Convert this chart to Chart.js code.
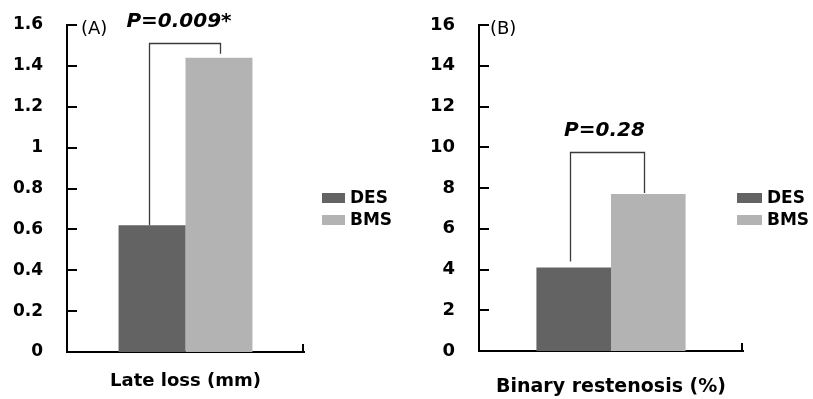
<!DOCTYPE html>
<html>
<head>
<meta charset="utf-8">
<script src="https://cdn.jsdelivr.net/npm/chart.js@4/dist/chart.umd.min.js"></script>
<style>
  html, body { margin: 0; padding: 0; background: #fff; }
  #wrap { position: relative; width: 813px; height: 399px; overflow: hidden; }
  #ca { position: absolute; left: 0; top: 0; }
  #cb { position: absolute; left: 410px; top: 0; }
</style>
</head>
<body>
<div id="wrap">
  <canvas id="ca" width="410" height="399"></canvas>
  <canvas id="cb" width="403" height="399"></canvas>
</div>
<script>
// ---- data ----
const seriesNames = ['DES', 'BMS'];
const seriesColors = ['#636363', '#b3b3b3'];
const categoriesA = ['Late loss (mm)'];
const categoriesB = ['Binary restenosis (%)'];
const lateLoss = [0.62, 1.44];          // DES, BMS
const binaryRestenosis = [4.1, 7.7];    // DES, BMS
const yTicksA = ['0', '0.2', '0.4', '0.6', '0.8', '1', '1.2', '1.4', '1.6'];
const yTicksB = ['0', '2', '4', '6', '8', '10', '12', '14', '16'];
const panelLabels = ['(A)', '(B)'];
const pLabels = ['P=0.009*', 'P=0.28'];
const bracketLevels = [1.51, 9.76];

const FONT = "'DejaVu Sans', sans-serif";

const annot = {
  id: 'annot',
  afterDraw(chart, args, o) {
    const ctx = chart.ctx, ca = chart.chartArea, ys = chart.scales.y;
    ctx.save();
    // inward y ticks
    ctx.strokeStyle = '#000';
    ctx.lineWidth = 2;
    ys.ticks.forEach(t => {
      const py = Math.round(ys.getPixelForValue(t.value));
      ctx.beginPath();
      ctx.moveTo(ca.left, py);
      ctx.lineTo(ca.left + 10, py);
      ctx.stroke();
    });
    // right end tick of x axis
    ctx.beginPath();
    ctx.moveTo(Math.round(ca.right) - 1, ca.bottom + 1);
    ctx.lineTo(Math.round(ca.right) - 1, ca.bottom - 8);
    ctx.stroke();

    // bracket
    const b0 = chart.getDatasetMeta(0).data[0];
    const b1 = chart.getDatasetMeta(1).data[0];
    const x0 = Math.round(b0.x) - o.lx + 0.5, x1 = Math.round(b1.x) - o.rx + 0.5;
    const top = Math.round(ys.getPixelForValue(o.level)) + 0.5;
    ctx.strokeStyle = '#3a3a3a';
    ctx.lineWidth = 1.3;
    ctx.beginPath();
    ctx.moveTo(x0, b0.y - o.gapL);
    ctx.lineTo(x0, top);
    ctx.lineTo(x1, top);
    ctx.lineTo(x1, b1.y - o.gapR);
    ctx.stroke();

    // p value text
    ctx.fillStyle = '#000';
    ctx.font = 'italic bold 20px ' + FONT;
    ctx.textAlign = 'center';
    ctx.textBaseline = 'middle';
    ctx.fillText(o.p, (x0 + x1) / 2 + o.pdx, top - 22);

    // panel label
    ctx.font = '18px ' + FONT;
    ctx.textAlign = 'left';
    ctx.fillText(o.panel, ca.left + o.panelDx, ca.top + 4);

    // legend
    ctx.font = 'bold 17px ' + FONT;
    chart.data.datasets.forEach((ds, i) => {
      const by = o.legY + i * 22;
      ctx.fillStyle = ds.backgroundColor;
      ctx.fillRect(o.legX, by, o.boxW, 10);
      ctx.fillStyle = '#000';
      ctx.textBaseline = 'middle';
      ctx.fillText(ds.label, o.legX + o.boxW + 5, by + 6);
    });
    ctx.restore();
  }
};

function makeChart(id, cats, vals, ticks, max, step, o, yW, xH, padR, tickFont, titleFont, titlePadB) {
  return new Chart(document.getElementById(id), {
    type: 'bar',
    data: {
      labels: cats,
      datasets: seriesNames.map((n, i) => ({
        label: n,
        data: [vals[i]],
        backgroundColor: seriesColors[i],
        borderWidth: 0,
        categoryPercentage: 0.565,
        barPercentage: 1.0
      }))
    },
    options: {
      responsive: false,
      animation: false,
      events: [],
      layout: { padding: { left: 0, right: padR, top: 25, bottom: 0 } },
      plugins: {
        legend: { display: false },
        tooltip: { enabled: false },
        annot: o
      },
      scales: {
        x: {
          grid: { display: false, drawTicks: false, tickLength: 0 },
          border: { display: true, color: '#000', width: 2 },
          ticks: { display: false },
          title: {
            display: true,
            text: cats[0],
            color: '#000',
            font: { family: FONT, size: titleFont, weight: 'bold' },
            padding: { top: 0, bottom: titlePadB }
          },
          afterFit: s => { s.height = xH; }
        },
        y: {
          min: 0, max: max,
          grid: { display: false, drawTicks: false, tickLength: 0 },
          border: { display: true, color: '#000', width: 2 },
          ticks: {
            stepSize: step,
            padding: 24,
            color: '#000',
            font: { family: FONT, size: tickFont, weight: 'bold' },
            callback: (v, i) => ticks[i]
          },
          afterFit: s => { s.width = yW; s.paddingTop = 10; s.paddingBottom = 10; }
        }
      }
    },
    plugins: [annot]
  });
}

makeChart('ca', categoriesA, lateLoss, yTicksA, 1.6, 0.2,
  { p: pLabels[0], panel: panelLabels[0], level: bracketLevels[0], lx: 3, rx: -1, gapL: 0, gapR: 4, pdx: -6,
    panelDx: 14, legX: 322, legY: 193, boxW: 23 },
  67, 47, 106, 17, 18, 7);

makeChart('cb', categoriesB, binaryRestenosis, yTicksB, 16, 2,
  { p: pLabels[1], panel: panelLabels[1], level: bracketLevels[1], lx: 4, rx: 4, gapL: 6, gapR: 1, pdx: -3,
    panelDx: 11, legX: 327, legY: 193, boxW: 25 },
  69, 48, 70, 18, 19, 1);
</script>
</body>
</html>
